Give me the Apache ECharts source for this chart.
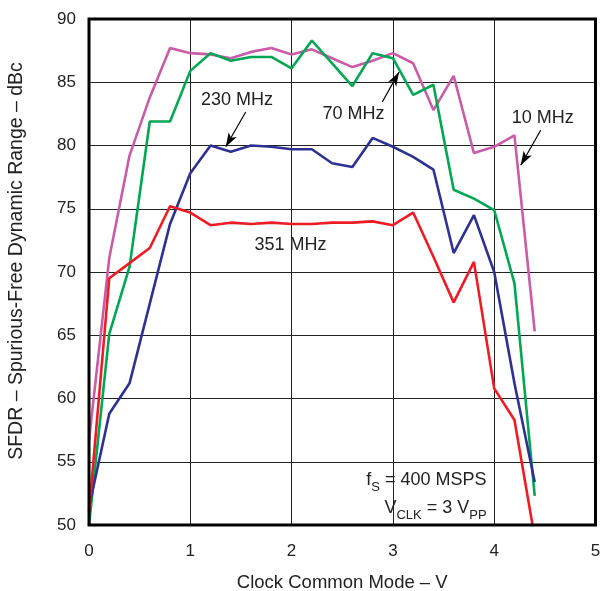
<!DOCTYPE html>
<html>
<head>
<meta charset="utf-8">
<script src="https://cdn.jsdelivr.net/npm/echarts@6/dist/echarts.min.js"></script>
<style>
html,body{margin:0;padding:0;background:#fff;}
#c{width:600px;height:591px;}
</style>
</head>
<body>
<div id="c"></div>
<script>
// Clock common mode voltage (V)
var xs = [0, 0.2, 0.4, 0.6, 0.8, 1.0, 1.2, 1.4, 1.6, 1.8, 2.0, 2.2, 2.4, 2.6, 2.8, 3.0, 3.2, 3.4, 3.6, 3.8, 4.0, 4.2, 4.4];
// SFDR (dBc)
var sfdr10MHz  = [56.7, 71.1, 79.2, 83.8, 87.7, 87.3, 87.2, 86.9, 87.4, 87.7, 87.2, 87.6, 86.9, 86.2, 86.7, 87.3, 86.5, 82.8, 85.5, 79.4, 79.9, 80.8, 65.3];
var sfdr70MHz  = [50.0, 65.1, 70.4, 81.9, 81.9, 85.9, 87.3, 86.7, 87.0, 87.0, 86.1, 88.3, 86.5, 84.7, 87.3, 86.9, 84.0, 84.8, 76.5, 75.8, 74.9, 69.1, 52.3];
var sfdr230MHz = [51.4, 58.8, 61.2, 67.5, 73.8, 77.8, 80.0, 79.5, 80.0, 79.9, 79.7, 79.7, 78.6, 78.3, 80.6, 79.9, 79.1, 78.1, 71.5, 74.5, 70.0, 61.2, 53.4];
var sfdr351MHz = [51.0, 69.5, 70.7, 71.9, 75.2, 74.7, 73.7, 73.9, 73.8, 73.9, 73.8, 73.8, 73.9, 73.9, 74.0, 73.7, 74.7, 71.2, 67.6, 70.8, 60.8, 58.3, 49.0];

var seriesNames = ['10 MHz', '70 MHz', '230 MHz', '351 MHz'];
var seriesColors = ['#C85CA6', '#00A651', '#2E3192', '#ED1C24'];
var xTicks = [0, 1, 2, 3, 4, 5];
var yTicks = [50, 55, 60, 65, 70, 75, 80, 85, 90];

// annotation labels (text, data position)
var labelTexts = ['230 MHz', '70 MHz', '10 MHz', '351 MHz'];
var labelPos = [[1.46, 83.57], [2.61, 82.46], [4.48, 82.2], [1.99, 72.1]];
// arrows: [from, to] in data coordinates
var arrows = [
  [[1.547, 82.65], [1.35, 79.9]],
  [[2.895, 83.44], [3.06, 85.8]],
  [[4.459, 81.2], [4.262, 78.44]]
];

function pairs(ys) { return xs.map(function (x, i) { return [x, ys[i]]; }); }
var allData = [sfdr10MHz, sfdr70MHz, sfdr230MHz, sfdr351MHz];

var FONT = '"Liberation Sans", Arial, Helvetica, sans-serif';
var chart = echarts.init(document.getElementById('c'), null, { renderer: 'canvas' });

var series = allData.map(function (d, i) {
  return {
    name: seriesNames[i],
    type: 'line',
    data: pairs(d),
    showSymbol: false,
    symbol: 'none',
    lineStyle: { color: seriesColors[i], width: 2.6 },
    itemStyle: { color: seriesColors[i] },
    silent: true,
    animation: false,
    z: 3
  };
});

series.push({
  type: 'line',
  data: [],
  silent: true,
  animation: false,
  markLine: {
    silent: true,
    symbol: ['none', 'arrow'],
    symbolSize: [7, 14],
    label: { show: false },
    lineStyle: { color: '#000', width: 1.2, type: 'solid' },
    emphasis: { disabled: true },
    data: arrows.map(function (a) { return [{ coord: a[0] }, { coord: a[1] }]; })
  }
});

chart.setOption({
  animation: false,
  backgroundColor: '#fff',
  grid: { left: 89, right: 4.5, top: 19, bottom: 66, containLabel: false, outerBoundsMode: 'none', show: true, borderColor: '#000', borderWidth: 3, backgroundColor: 'transparent', z: 10 },
  xAxis: {
    type: 'value', min: xTicks[0], max: xTicks[xTicks.length - 1], interval: 1,
    name: 'Clock Common Mode \u2013 V', nameLocation: 'middle', nameGap: 48,
    nameTextStyle: { fontFamily: FONT, fontSize: 18.5, color: '#222' },
    axisLine: { show: false }, axisTick: { show: false },
    axisLabel: { fontFamily: FONT, fontSize: 17, color: '#222', margin: 18 },
    splitLine: { show: true, lineStyle: { color: '#222', width: 1 } }
  },
  yAxis: {
    type: 'value', min: yTicks[0], max: yTicks[yTicks.length - 1], interval: 5,
    name: 'SFDR \u2013 Spurious-Free Dynamic Range \u2013 dBc', nameLocation: 'middle', nameGap: 62, nameRotate: 90,
    nameTextStyle: { fontFamily: FONT, fontSize: 19.5, color: '#222', padding: [0, 0, 0, 22] },
    axisLine: { show: false }, axisTick: { show: false },
    axisLabel: { fontFamily: FONT, fontSize: 17, color: '#222', margin: 13 },
    splitLine: { show: true, lineStyle: { color: '#222', width: 1 } }
  },
  series: series
});

function px(p) { return chart.convertToPixel({ xAxisIndex: 0, yAxisIndex: 0 }, p); }

var graphics = labelTexts.map(function (t, i) {
  var p = px(labelPos[i]);
  return {
    type: 'text', x: p[0], y: p[1], z: 20, silent: true,
    style: { text: t, fontFamily: FONT, fontSize: 18, fill: '#222', align: 'center', verticalAlign: 'middle', backgroundColor: null }
  };
});

var fsPos = px([3.925, 53.75]);
var vcPos = px([3.925, 51.5]);
var rich = {
  a: { fontFamily: FONT, fontSize: 18, fill: '#222', color: '#222', verticalAlign: 'bottom', lineHeight: 22 },
  s: { fontFamily: FONT, fontSize: 13, fill: '#222', color: '#222', verticalAlign: 'bottom', lineHeight: 22, padding: [0, 0, -5, 0] }
};
graphics.push({
  type: 'text', x: fsPos[0], y: fsPos[1], z: 20, silent: true,
  style: { text: '{a|f}{s|S}{a| = 400 MSPS}', rich: rich, align: 'right', verticalAlign: 'middle' }
});
graphics.push({
  type: 'text', x: vcPos[0], y: vcPos[1], z: 20, silent: true,
  style: { text: '{a|V}{s|CLK}{a| = 3 V}{s|PP}', rich: rich, align: 'right', verticalAlign: 'middle' }
});

chart.setOption({ graphic: graphics });
</script>
</body>
</html>
